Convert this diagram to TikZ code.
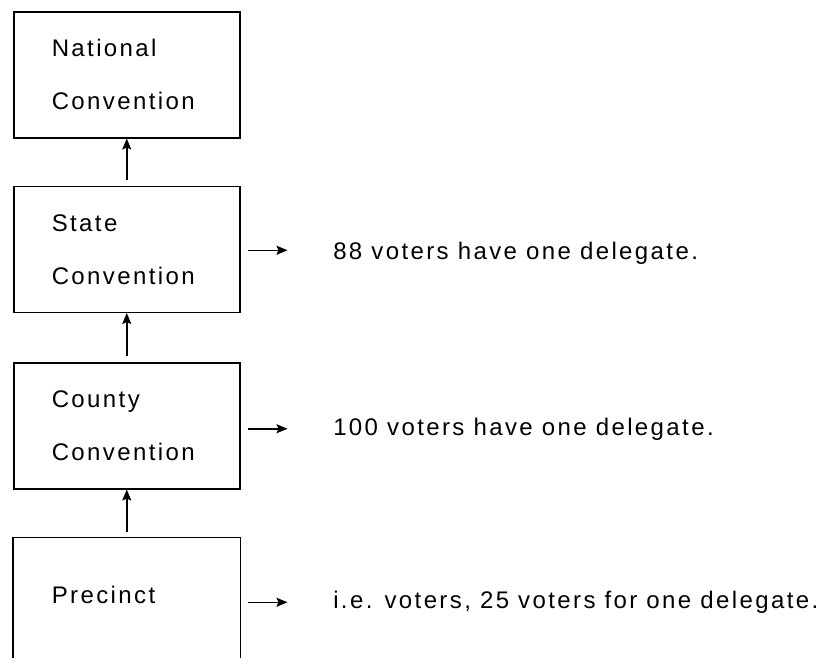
\documentclass[tikz,border=0pt]{standalone}
\usepackage{fontspec}
\setmainfont{Liberation Sans}[LetterSpace=10]
\usetikzlibrary{positioning}
\usetikzlibrary{arrows.meta}

\begin{document}
\begin{tikzpicture}[x=1pt,y=-1pt,->,>={Stealth[length=11pt,width=9pt,inset=2pt]},line width=1.5pt,
  level box/.style={rectangle,draw,minimum width=226pt,minimum height=126pt,
    text width=150pt,inner xsep=0pt,align=left,font=\fontsize{24}{53}\selectfont},
  count text/.style={font=\fontsize{24}{28}\selectfont,inner sep=0pt,yshift=-4pt}]
\useasboundingbox (0,0) rectangle (820,657);

\node[level box,anchor=north west] (nat) at (13,11) {National\\Convention};
\node[level box] (state) [below=47pt of nat] {State\\Convention};
\node[level box] (county) [below=49pt of state] {County\\Convention};
\node[level box,draw=none,minimum height=114pt] (prec) [below=48pt of county] {Precinct};
\draw[-] ([yshift=-12pt]prec.south west) |- (prec.north east) -- ([yshift=-12pt]prec.south east);

\node[count text,anchor=west] (s88) [right=92pt of state] {88 voters have one delegate.};
\node[count text,anchor=west] (c100) [right=92pt of county] {100 voters have one delegate.};
\node[count text,anchor=west,yshift=-3pt] (p25) [right=92pt of prec] {i.e. voters, 25 voters for one delegate.};

\draw[->] ([yshift=6pt]state.north) -- (nat.south);
\draw[->] ([yshift=6pt]county.north) -- (state.south);
\draw[->] ([yshift=6pt]prec.north) -- (county.south);

\draw[->] ([xshift=7pt,yshift=-1pt]state.east) -- ([xshift=-45pt,yshift=3pt]s88.west);
\draw[->] ([xshift=7pt,yshift=-3pt]county.east) -- ([xshift=-45pt,yshift=1pt]c100.west);
\draw[->] ([xshift=7pt,yshift=-7pt]prec.east) -- ([xshift=-45pt]p25.west);
\end{tikzpicture}
\end{document}
